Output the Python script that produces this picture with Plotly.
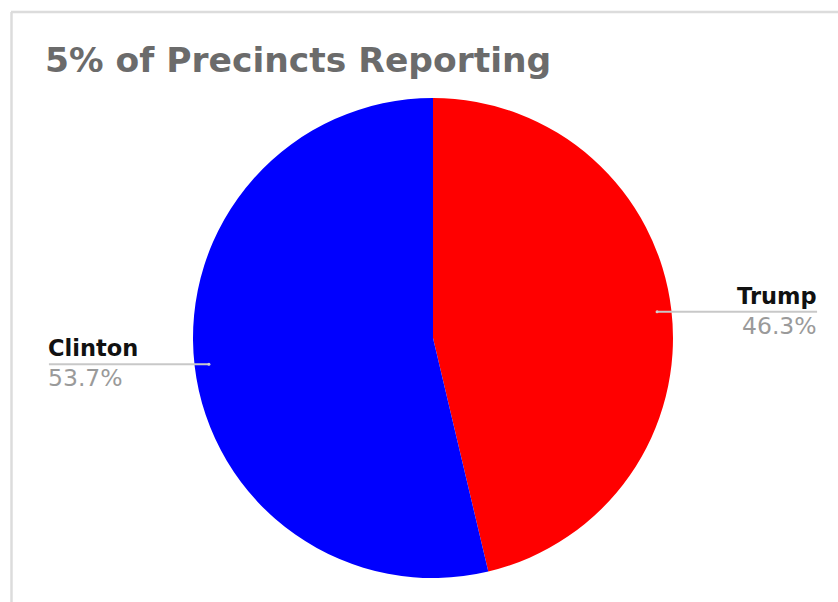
import math
import plotly.graph_objects as go

candidates = ["Trump", "Clinton"]
shares = [46.3, 53.7]
colors = ["#ff0000", "#0000ff"]
title_text = "5% of Precincts Reporting"

W, H = 838, 602
CX, CY, R = 433, 338, 240  # pie centre / radius in pixels

def px(x):
    return x / W

def py(y):
    return 1 - y / H

fig = go.Figure()
fig.add_trace(go.Pie(
    labels=candidates, values=shares, sort=False, direction="clockwise", rotation=0,
    marker=dict(colors=colors, line=dict(width=0)), textinfo="none", hoverinfo="label+percent",
    domain=dict(x=[px(CX - R), px(CX + R)], y=[py(CY + R), py(CY - R)]),
    showlegend=False,
))

shapes = []
annotations = []
# frame
shapes.append(dict(type="line", xref="paper", yref="paper", x0=px(11.5), x1=px(11.5), y0=py(12), y1=0,
                   line=dict(color="#dcdcdc", width=2.5)))
shapes.append(dict(type="line", xref="paper", yref="paper", x0=px(11), x1=1, y0=py(12), y1=py(12),
                   line=dict(color="#dcdcdc", width=2.5)))

annotations.append(dict(text="<b>" + title_text + "</b>", xref="paper", yref="paper", x=px(43), y=py(38),
                        xanchor="left", yanchor="top", showarrow=False,
                        font=dict(family="DejaVu Sans", size=34.5, color="#6b6b6b")))

total = sum(shares)
cum = 0.0
for name, v in zip(candidates, shares):
    mid = (cum + v / 2) / total * 2 * math.pi
    cum += v
    ax = CX + 0.94 * R * math.sin(mid)
    ay = CY - 0.94 * R * math.cos(mid)
    side = 1 if math.sin(mid) >= 0 else -1
    ex = ax + side * 160
    shapes.append(dict(type="line", xref="paper", yref="paper", x0=px(ax), x1=px(ex), y0=py(ay), y1=py(ay),
                       line=dict(color="#c8c8c8", width=2)))
    shapes.append(dict(type="circle", xref="paper", yref="paper", x0=px(ax - 1.5), x1=px(ax + 1.5),
                       y0=py(ay + 1.5), y1=py(ay - 1.5), line=dict(width=0), fillcolor="#d0d0d0"))
    anchor = "right" if side > 0 else "left"
    tx = ex + (2 if side > 0 else -3)
    annotations.append(dict(text="<b>" + name + "</b>", xref="paper", yref="paper", x=px(tx), y=py(ay - 1),
                            xanchor=anchor, yanchor="bottom", showarrow=False,
                            font=dict(family="DejaVu Sans", size=22.5, color="#111111")))
    annotations.append(dict(text=f"{v / total * 100:.1f}%", xref="paper", yref="paper", x=px(tx), y=py(ay - 2),
                            xanchor=anchor, yanchor="top", showarrow=False,
                            font=dict(family="DejaVu Sans", size=23.5, color="#9a9a9a")))

fig.update_layout(width=W, height=H, margin=dict(l=0, r=0, t=0, b=0), paper_bgcolor="white",
                  plot_bgcolor="white", shapes=shapes, annotations=annotations)
fig.write_html("out.html")
